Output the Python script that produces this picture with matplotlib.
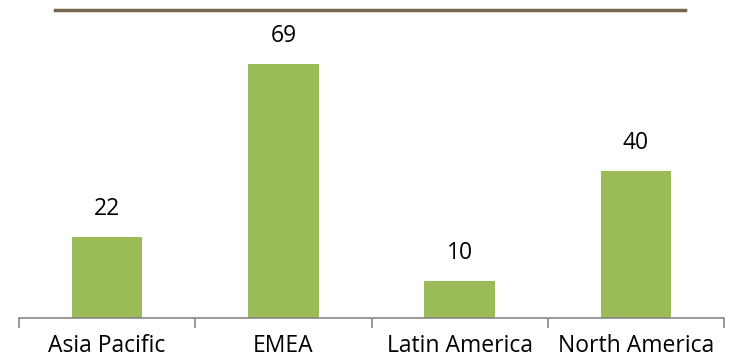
import matplotlib.pyplot as plt
from matplotlib.lines import Line2D

regions = ["Asia Pacific", "EMEA", "Latin America", "North America"]
counts = [22, 69, 10, 40]

plt.rcParams['font.family'] = ['Open Sans', 'DejaVu Sans']

fig = plt.figure(figsize=(7.30, 3.62), dpi=100)
# plot area: x 19..724 px, baseline at y=318 px
ax = fig.add_axes([19 / 730, 1 - 318 / 362, 705 / 730, 308 / 362])

x = range(len(regions))
bars = ax.bar(x, counts, width=0.40, color="#9BBB59")
ax.set_xlim(-0.5, len(regions) - 0.5)
ax.set_ylim(0, 83.7)

for rect, v in zip(bars, counts):
    ax.annotate(str(v), (rect.get_x() + rect.get_width() / 2, v),
                xytext=(0, 28), textcoords="offset pixels",
                ha="center", va="center", fontsize=16.5, color="black")

for side in ("top", "right", "left"):
    ax.spines[side].set_visible(False)
ax.spines["bottom"].set_color("#868686")
ax.spines["bottom"].set_linewidth(1.2)
ax.set_yticks([])

# ticks sit on the category boundaries
ax.set_xticks([i - 0.5 for i in range(len(regions) + 1)])
ax.set_xticklabels([])
ax.tick_params(axis="x", length=7, width=1.2, color="#868686", direction="out")
for i, name in enumerate(regions):
    ax.annotate(name, (i, 0), xytext=(0, -28), textcoords="offset pixels",
                ha="center", va="center", fontsize=16.5, color="black")

# decorative rule along the top
fig.add_artist(Line2D([55 / 730, 685 / 730], [1 - 10 / 362, 1 - 10 / 362],
                      color="#76654A", linewidth=2.5, transform=fig.transFigure))

fig.savefig("out.png", dpi=100)
